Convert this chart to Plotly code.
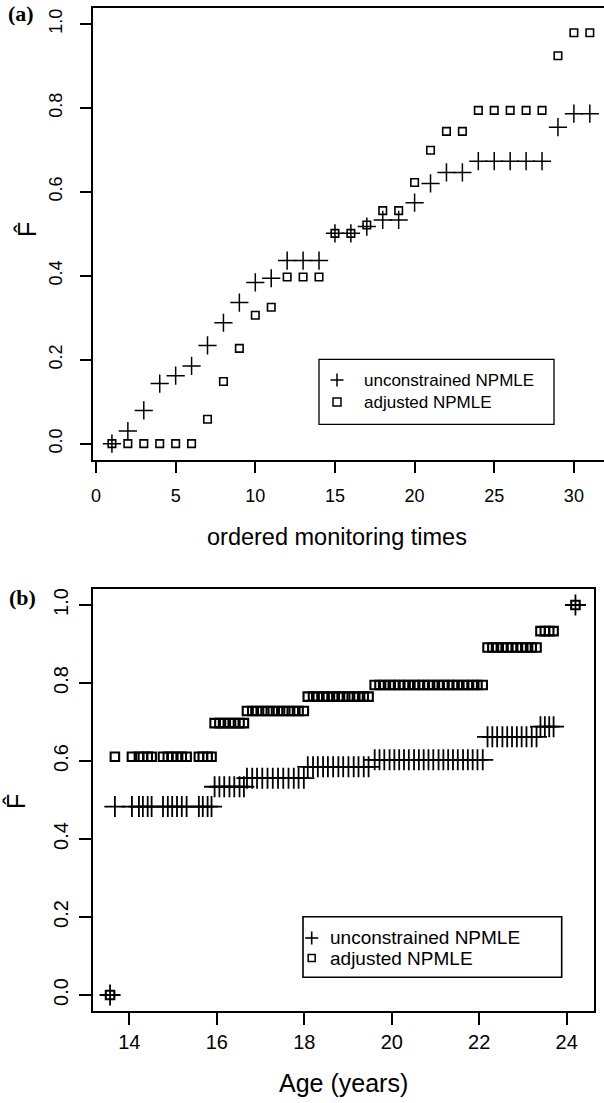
import plotly.graph_objects as go

# ---------------- data ----------------
# Panel (a): ordered monitoring times
times_a = [1, 2, 3, 4, 5, 6, 7, 8, 9, 10, 11, 12, 13, 14, 15, 16,
           17, 18, 19, 20, 21, 22, 23, 24, 25, 26, 27, 28, 29, 30, 31]
unconstrained_a = [0.000, 0.030, 0.079, 0.143, 0.162, 0.185, 0.234, 0.288,
                   0.336, 0.384, 0.394, 0.436, 0.436, 0.436, 0.501, 0.501,
                   0.517, 0.533, 0.533, 0.574, 0.620, 0.646, 0.646, 0.673,
                   0.673, 0.673, 0.673, 0.673, 0.754, 0.786, 0.786]
adjusted_a = [0.000, 0.000, 0.000, 0.000, 0.000, 0.000, 0.058, 0.148,
              0.227, 0.306, 0.325, 0.397, 0.397, 0.397, 0.501, 0.501,
              0.521, 0.555, 0.555, 0.622, 0.699, 0.744, 0.744, 0.794,
              0.794, 0.794, 0.794, 0.794, 0.924, 0.979, 0.979]

# Panel (b): age (years)
ages_b = [13.56,
          13.67, 14.06, 14.22, 14.31, 14.42, 14.51, 14.77, 14.88, 14.98, 15.09,
          15.20, 15.31, 15.59, 15.68, 15.79, 15.88,
          15.95, 16.06, 16.17, 16.29, 16.40, 16.52, 16.62,
          16.69, 16.81, 16.92, 17.04, 17.16, 17.28, 17.40, 17.52, 17.64, 17.76,
          17.87, 17.99,
          18.08, 18.20, 18.31, 18.43, 18.54, 18.66, 18.78, 18.89, 19.01, 19.13,
          19.24, 19.36, 19.47,
          19.61, 19.72, 19.83, 19.95, 20.06, 20.17, 20.28, 20.39, 20.51, 20.62,
          20.73, 20.84, 20.95, 21.07, 21.18, 21.29, 21.40, 21.51, 21.63, 21.74,
          21.85, 21.96, 22.08,
          22.19, 22.30, 22.41, 22.53, 22.64, 22.75, 22.86, 22.97, 23.08, 23.20,
          23.31,
          23.40, 23.50, 23.60, 23.70,
          24.20]
unconstrained_b = [0.000,
                   0.483, 0.483, 0.483, 0.483, 0.483, 0.483, 0.483, 0.483, 0.483, 0.483,
                   0.483, 0.483, 0.483, 0.483, 0.483, 0.483,
                   0.534, 0.534, 0.534, 0.534, 0.534, 0.534, 0.534,
                   0.556, 0.556, 0.556, 0.556, 0.556, 0.556, 0.556, 0.556, 0.556, 0.556,
                   0.556, 0.556,
                   0.585, 0.585, 0.585, 0.585, 0.585, 0.585, 0.585, 0.585, 0.585, 0.585,
                   0.585, 0.585, 0.585,
                   0.603, 0.603, 0.603, 0.603, 0.603, 0.603, 0.603, 0.603, 0.603, 0.603,
                   0.603, 0.603, 0.603, 0.603, 0.603, 0.603, 0.603, 0.603, 0.603, 0.603,
                   0.603, 0.603, 0.603,
                   0.662, 0.662, 0.662, 0.662, 0.662, 0.662, 0.662, 0.662, 0.662, 0.662,
                   0.662,
                   0.688, 0.688, 0.688, 0.688,
                   1.000]
adjusted_b = [0.000,
              0.611, 0.611, 0.611, 0.611, 0.611, 0.611, 0.611, 0.611, 0.611, 0.611,
              0.611, 0.611, 0.611, 0.611, 0.611, 0.611,
              0.697, 0.697, 0.697, 0.697, 0.697, 0.697, 0.697,
              0.728, 0.728, 0.728, 0.728, 0.728, 0.728, 0.728, 0.728, 0.728, 0.728,
              0.728, 0.728,
              0.765, 0.765, 0.765, 0.765, 0.765, 0.765, 0.765, 0.765, 0.765, 0.765,
              0.765, 0.765, 0.765,
              0.795, 0.795, 0.795, 0.795, 0.795, 0.795, 0.795, 0.795, 0.795, 0.795,
              0.795, 0.795, 0.795, 0.795, 0.795, 0.795, 0.795, 0.795, 0.795, 0.795,
              0.795, 0.795, 0.795,
              0.891, 0.891, 0.891, 0.891, 0.891, 0.891, 0.891, 0.891, 0.891, 0.891,
              0.891,
              0.933, 0.933, 0.933, 0.933,
              1.000]

xticks_a = [0, 5, 10, 15, 20, 25, 30]
yticks = [0.0, 0.2, 0.4, 0.6, 0.8, 1.0]
ytick_labels = ["0.0", "0.2", "0.4", "0.6", "0.8", "1.0"]
xticks_b = [14, 16, 18, 20, 22, 24]
legend_labels = ["unconstrained NPMLE", "adjusted NPMLE"]

# ---------------- layout helpers ----------------
W, H = 604, 1103


def px(x):
    return x / W


def py(y):
    return 1 - y / H


FONT = "Liberation Sans, Arial, sans-serif"
SERIF = "Liberation Serif, Times New Roman, serif"

fig = go.Figure()

# panel (a)
fig.add_trace(go.Scatter(x=times_a, y=unconstrained_a, mode="markers",
                         marker=dict(symbol="cross-thin-open", size=13, color="black",
                                     line=dict(color="black", width=1.5)),
                         xaxis="x", yaxis="y", showlegend=False))
fig.add_trace(go.Scatter(x=times_a, y=adjusted_a, mode="markers",
                         marker=dict(symbol="square-open", size=7.5, color="black",
                                     line=dict(color="black", width=1.6)),
                         xaxis="x", yaxis="y", showlegend=False))
# panel (b)
fig.add_trace(go.Scatter(x=ages_b, y=unconstrained_b, mode="markers",
                         marker=dict(symbol="cross-thin-open", size=15, color="black",
                                     line=dict(color="black", width=1.8)),
                         xaxis="x2", yaxis="y2", showlegend=False))
fig.add_trace(go.Scatter(x=ages_b, y=adjusted_b, mode="markers",
                         marker=dict(symbol="square-open", size=8.5, color="black",
                                     line=dict(color="black", width=2.1)),
                         xaxis="x2", yaxis="y2", showlegend=False))

axis_common = dict(showgrid=False, zeroline=False, showline=True, linecolor="black",
                   ticks="outside", tickcolor="black", automargin=False)

fig.update_layout(
    width=W, height=H,
    margin=dict(l=0, r=0, t=0, b=0, autoexpand=False),
    paper_bgcolor="white", plot_bgcolor="white",
    xaxis=dict(domain=[px(92.5), 1.0], range=[-0.22, 31.89], tickvals=xticks_a,
               ticklen=11, linewidth=1.5, tickwidth=1.5, mirror=True,
               ticklabelstandoff=8,
               tickfont=dict(family=FONT, size=18, color="black"),
               anchor="y", **axis_common),
    yaxis=dict(domain=[py(460), py(7.5)], range=[-0.039, 1.039], tickvals=yticks,
               ticktext=ytick_labels, tickangle=-90, ticklen=11, linewidth=1.5,
               tickwidth=1.5, ticklabelstandoff=11,
               tickfont=dict(family=FONT, size=18, color="black"),
               anchor="x", **axis_common),
    xaxis2=dict(domain=[px(92.7), px(594)], range=[13.163, 24.624], tickvals=xticks_b,
                ticklen=12, linewidth=2.2, tickwidth=2.2, mirror=True,
                tickfont=dict(family=FONT, size=20, color="black"),
                anchor="y2", **axis_common),
    yaxis2=dict(domain=[py(1010.7), py(589)], range=[-0.0403, 1.041], tickvals=yticks,
                ticktext=ytick_labels, tickangle=-90, ticklen=12, linewidth=2.2,
                tickwidth=2.2, mirror=True, ticklabelstandoff=3,
                tickfont=dict(family=FONT, size=20, color="black"),
                anchor="x2", **axis_common),
)

ann = []


def text(x, y, s, size, family=FONT, angle=0, xanchor="center", bold=False):
    ann.append(dict(x=px(x), y=py(y), xref="paper", yref="paper",
                    text=(f"<b>{s}</b>" if bold else s),
                    showarrow=False, textangle=angle, xanchor=xanchor, yanchor="middle",
                    font=dict(family=family, size=size, color="black")))


text(21, 14, "(a)", 22, family=SERIF, bold=True)
text(22, 597, "(b)", 22, family=SERIF, bold=True)
text(337, 537, "ordered monitoring times", 23.5)
text(343, 1083, "Age (years)", 25)
text(27, 230, "F\u0302", 25, angle=-90)
text(16, 802, "F\u0302", 25, angle=-90)

# legend texts
text(362, 380, legend_labels[0], 17, xanchor="left")
text(362, 402, legend_labels[1], 17, xanchor="left")
text(328, 937, legend_labels[0], 19, xanchor="left")
text(328, 959, legend_labels[1], 19, xanchor="left")

shapes = []


def rect(x0, y0, x1, y1, lw):
    shapes.append(dict(type="rect", xref="paper", yref="paper", x0=px(x0), x1=px(x1),
                       y0=py(y0), y1=py(y1), line=dict(color="black", width=lw),
                       fillcolor="rgba(0,0,0,0)"))


def plus(x, y, r, lw):
    shapes.append(dict(type="line", xref="paper", yref="paper", x0=px(x - r), x1=px(x + r),
                       y0=py(y), y1=py(y), line=dict(color="black", width=lw)))
    shapes.append(dict(type="line", xref="paper", yref="paper", x0=px(x), x1=px(x),
                       y0=py(y - r), y1=py(y + r), line=dict(color="black", width=lw)))


# legend (a)
rect(319, 359.3, 554, 424.3, 1.3)
plus(337, 380, 6.5, 1.5)
rect(333, 398, 341, 406, 1.5)
# legend (b)
rect(303, 916.7, 561.7, 977.3, 1.6)
plus(311.7, 938, 6.5, 1.6)
rect(308.2, 954.5, 315.2, 961.5, 1.5)

fig.update_layout(annotations=ann, shapes=shapes)
fig.write_html("out.html",
               config={"displayModeBar": False},
               post_script="document.body.style.margin='0';document.body.style.overflow='hidden';")
